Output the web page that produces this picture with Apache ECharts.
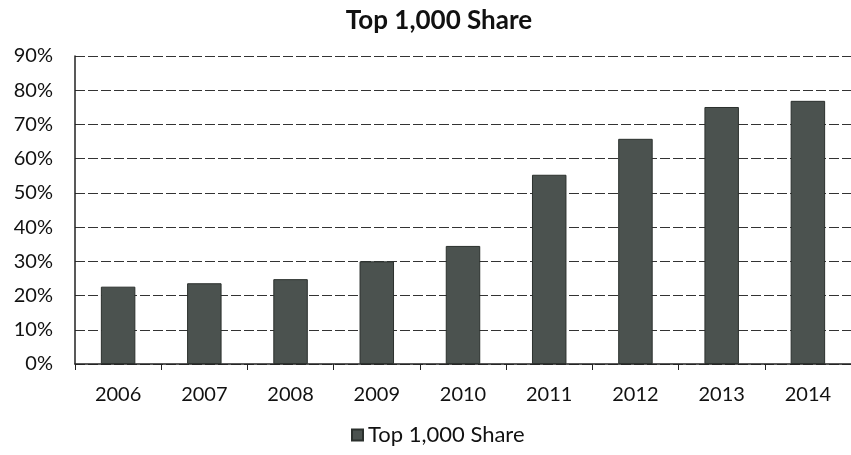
<!DOCTYPE html>
<html>
<head>
<meta charset="utf-8">
<script src="https://cdn.jsdelivr.net/npm/echarts@6/dist/echarts.min.js"></script>
<style>
  html, body { margin: 0; padding: 0; background: #fff; }
  #chart { width: 851px; height: 455px; }
</style>
</head>
<body>
<div id="chart"></div>
<script>
// Share of total held by the top 1,000, by year
const years = ['2006', '2007', '2008', '2009', '2010', '2011', '2012', '2013', '2014'];
const shareValues = [0.226, 0.236, 0.248, 0.300, 0.345, 0.553, 0.658, 0.751, 0.769];
const seriesName = 'Top 1,000 Share';

const FONT = 'Lato, "Open Sans", sans-serif';
const chart = echarts.init(document.getElementById('chart'));

chart.setOption({
  backgroundColor: '#ffffff',
  animation: false,
  title: {
    text: 'Top 1,000 Share',
    left: 434,
    textAlign: 'center',
    top: 3,
    textStyle: { fontFamily: FONT, fontWeight: 'bold', fontSize: 26, color: '#111' }
  },
  legend: {
    data: [seriesName],
    bottom: 4,
    left: 346,
    itemWidth: 11,
    itemHeight: 11,
    itemGap: 6,
    icon: 'rect',
    textStyle: { fontFamily: FONT, fontSize: 22, color: '#111' }
  },
  grid: { left: 75, right: 0, top: 56, bottom: 91, containLabel: false },
  xAxis: {
    type: 'category',
    data: years,
    axisLine: { show: true, lineStyle: { color: '#222', width: 1.5 } },
    axisTick: { show: true, length: 6, alignWithLabel: false, lineStyle: { color: '#222' } },
    axisLabel: { fontFamily: FONT, fontSize: 20, color: '#111', margin: 21 }
  },
  yAxis: {
    type: 'value',
    min: 0,
    max: 0.9,
    interval: 0.1,
    axisLine: { show: true, lineStyle: { color: '#222', width: 1.5 } },
    axisTick: { show: false },
    axisLabel: {
      fontFamily: FONT, fontSize: 20, color: '#111', margin: 22,
      formatter: v => Math.round(v * 100) + '%'
    },
    splitLine: { show: true, lineStyle: { color: '#333', width: 1, type: [10, 3] } }
  },
  series: [{
    name: seriesName,
    type: 'bar',
    data: shareValues,
    barCategoryGap: '60%',
    itemStyle: { color: '#4b524f', borderColor: '#2b302d', borderWidth: 1 }
  }]
});
</script>
</body>
</html>
